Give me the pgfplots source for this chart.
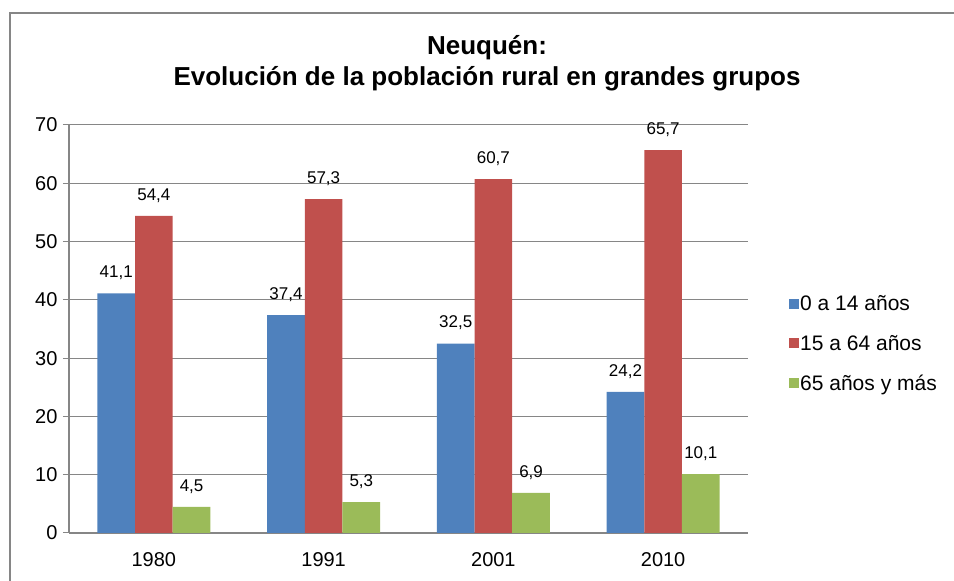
\documentclass[border=0pt]{standalone}
\usepackage{fontspec}
\setmainfont{Liberation Sans}
\usepackage{pgfplots}
\pgfplotsset{compat=1.18}
\definecolor{cblue}{HTML}{4F81BD}
\definecolor{cred}{HTML}{C0504D}
\definecolor{cgreen}{HTML}{9BBB59}
\definecolor{cgrid}{HTML}{868686}
\begin{document}
\begin{tikzpicture}[x=1pt,y=1pt]
\useasboundingbox (0,0) rectangle (954,581);
\draw[cgrid, line width=1.5pt] (10,-20) rectangle (980,568);
\node[font=\bfseries\fontsize{26}{26}\selectfont, anchor=center] at (487,533) {Neuquén:};
\node[font=\bfseries\fontsize{26}{26}\selectfont, anchor=center] at (487,502) {Evolución de la población rural en grandes grupos};
\begin{axis}[
  at={(69pt,48pt)}, anchor=south west, scale only axis,
  width=679pt, height=408pt,
  xmin=-0.5, xmax=3.5, ymin=0, ymax=70,
  ybar=0pt, bar width=37.7pt,
  /pgf/number format/assume math mode=true,
  xtick={0,1,2,3}, xticklabels={1980,1991,2001,2010},
  minor xtick={-0.5,0.5,1.5,2.5,3.5},
  ytick={0,10,...,70},
  ymajorgrids, grid style={cgrid, line width=1pt},
  axis x line*=bottom, axis y line*=left,
  axis line style={cgrid, line width=1.2pt, -},
  tick align=outside,
  major tick length=6pt, minor tick length=6pt,
  xtick style={draw=none},
  minor x tick style={cgrid, line width=1pt},
  ytick style={cgrid, line width=1pt},
  tick label style={font=\fontsize{20}{20}\selectfont, black},
  xticklabel style={yshift=-10pt},
  yticklabel style={xshift=-2pt},
  nodes near coords={\pgfmathprintnumber[fixed,fixed zerofill,precision=1,use comma,assume math mode=true]{\pgfplotspointmeta}},
  every node near coord/.append style={font=\fontsize{17}{17}\selectfont, black, yshift=10pt},
  legend style={at={(1.056,0.59)}, anchor=north west, draw=none, fill=none,
    font=\fontsize{21}{21}\selectfont, row sep=21pt,
    nodes={inner sep=1pt}},
  legend cell align=left,
  legend image code/.code={\fill[#1, draw=none] (0pt,-5pt) rectangle (10pt,5pt);},
]
\addplot[fill=cblue, draw=none] coordinates {(0,41.1) (1,37.4) (2,32.5) (3,24.2)};
\addplot[fill=cred, draw=none] coordinates {(0,54.4) (1,57.3) (2,60.7) (3,65.7)};
\addplot[fill=cgreen, draw=none] coordinates {(0,4.5) (1,5.3) (2,6.9) (3,10.1)};
\legend{0 a 14 años, 15 a 64 años, 65 años y más}
\end{axis}
\end{tikzpicture}
\end{document}
